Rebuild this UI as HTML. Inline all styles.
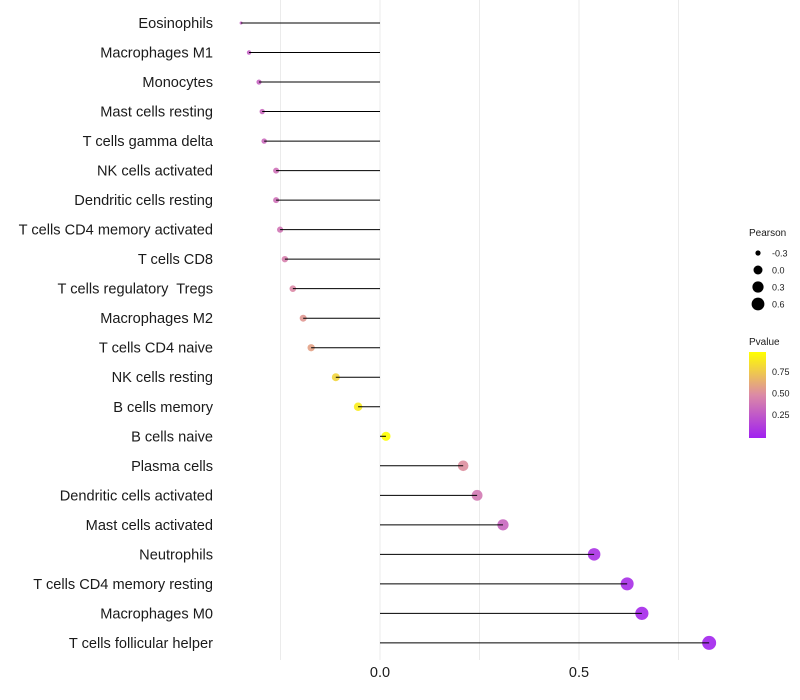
<!DOCTYPE html>
<html><head><meta charset="utf-8"><style>
body{margin:0;background:#fff;font-family:"Liberation Sans",sans-serif;}
svg{display:block}
text{white-space:pre}
</style></head><body>
<svg id="chart" width="800" height="700">
<defs><linearGradient id="pg" x1="0" y1="1" x2="0" y2="0">
<stop offset="0" stop-color="#a020f0"/><stop offset="0.5" stop-color="#dc8aa6"/><stop offset="1" stop-color="#ffff00"/>
</linearGradient></defs>
<g id="grid"></g><g id="marks"></g><g id="labels"></g>
<g font-size="9" fill="#1a1a1a">
<text x="749" y="236" font-size="10">Pearson</text>
<circle cx="758" cy="253" r="2.6" fill="#000"/><text x="772" y="256.5">-0.3</text>
<circle cx="758" cy="270" r="4.5" fill="#000"/><text x="772" y="273.5">0.0</text>
<circle cx="758" cy="287" r="5.6" fill="#000"/><text x="772" y="290.5">0.3</text>
<circle cx="758" cy="304" r="6.4" fill="#000"/><text x="772" y="307.5">0.6</text>
<text x="749" y="345" font-size="10">Pvalue</text>
<rect x="749" y="352" width="17" height="86" fill="url(#pg)"/>
<text x="772" y="375">0.75</text><text x="772" y="396.5">0.50</text><text x="772" y="418">0.25</text>
</g>
</svg>
<script>
const categories=["Eosinophils","Macrophages M1","Monocytes","Mast cells resting","T cells gamma delta","NK cells activated","Dendritic cells resting","T cells CD4 memory activated","T cells CD8","T cells regulatory  Tregs","Macrophages M2","T cells CD4 naive","NK cells resting","B cells memory","B cells naive","Plasma cells","Dendritic cells activated","Mast cells activated","Neutrophils","T cells CD4 memory resting","Macrophages M0","T cells follicular helper"];
const pearson=[-0.349,-0.329,-0.304,-0.296,-0.291,-0.261,-0.261,-0.251,-0.239,-0.219,-0.193,-0.173,-0.111,-0.055,0.015,0.209,0.244,0.309,0.538,0.621,0.658,0.827];
const pvalue=[0.3,0.3,0.32,0.34,0.35,0.38,0.38,0.4,0.45,0.5,0.56,0.6,0.82,0.92,1.0,0.52,0.42,0.33,0.08,0.06,0.04,0.02];
const xTicks=[0,0.5];
const xGrid=[-0.25,0.25,0.75];
const NS="http://www.w3.org/2000/svg";
const x=v=>380+v*398;
const y=i=>23+i*29.52;
const mn=Math.min(...pearson),mx=Math.max(...pearson);
const rad=v=>1.5+5.5*Math.sqrt((v-mn)/(mx-mn));
function lerp(a,b,t){return a.map((c,k)=>Math.round(c+(b[k]-c)*t));}
function col(p){const A=[160,32,240],B=[220,138,166],C=[255,255,0];
 const c=p<0.5?lerp(A,B,p/0.5):lerp(B,C,(p-0.5)/0.5);return `rgb(${c.join(',')})`;}
function mk(tag,at,parent){const e=document.createElementNS(NS,tag);for(const k in at)e.setAttribute(k,at[k]);parent.appendChild(e);return e;}
const grid=document.getElementById('grid'),marks=document.getElementById('marks'),labels=document.getElementById('labels');
xGrid.concat(xTicks).forEach(v=>{const l=mk('line',{x1:x(v),x2:x(v),y1:0,y2:660,stroke:'#ebebeb','stroke-width':1},grid);

});
xTicks.forEach(v=>{const t=mk('text',{x:x(v),y:677,'text-anchor':'middle','font-size':14.5,fill:'#1a1a1a'},labels);t.textContent=v.toFixed(1);

});
categories.forEach((c,i)=>{
 const t=mk('text',{x:213,y:y(i)+5,'text-anchor':'end','font-size':14.6,fill:'#1a1a1a'},labels);t.textContent=c;
 
 
 const d=mk('circle',{cx:x(pearson[i]),cy:y(i),r:rad(pearson[i]),fill:col(pvalue[i]),'fill-opacity':0.9},marks);
 
 
 const s=mk('line',{x1:x(0),x2:x(pearson[i]),y1:y(i),y2:y(i),stroke:'#000','stroke-width':1},marks);
 
 
});
</script>
</body></html>
